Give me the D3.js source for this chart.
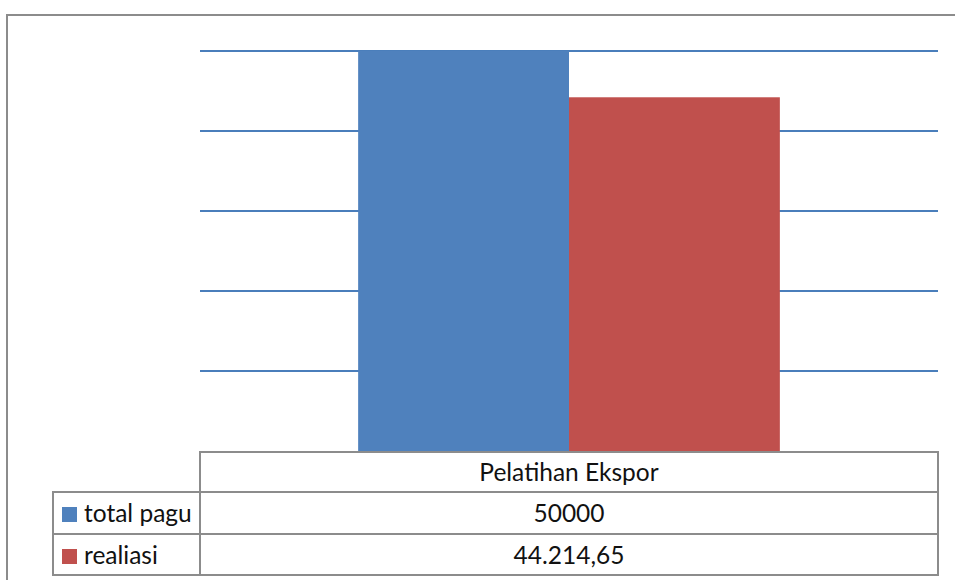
<!DOCTYPE html>
<html><head><meta charset="utf-8">
<script src="https://cdn.jsdelivr.net/npm/d3@7"></script>
<style>body{margin:0;background:#fff}svg{display:block}</style>
</head><body>
<script>
const categories = ["Pelatihan Ekspor"];
const seriesNames = ["total pagu", "realiasi"];
const seriesValues = [50000, 44214.65];
const seriesLabels = ["50000", "44.214,65"];
const seriesColors = ["#4F81BD", "#C0504D"];
const yTicks = [0, 10000, 20000, 30000, 40000, 50000];

const W = 955, H = 580;
const svg = d3.select("body").append("svg").attr("width", W).attr("height", H);
const font = "Lato, 'Open Sans', sans-serif";
const fs = 24.5;

// outer chart border
svg.append("rect").attr("x", 7).attr("y", 15).attr("width", 960).attr("height", 600)
  .attr("fill", "none").attr("stroke", "#8c8c8c").attr("stroke-width", 2);

const plot = {left: 200, right: 938, top: 51, bottom: 451};
const y = d3.scaleLinear().domain([0, 50000]).range([plot.bottom, plot.top]);
const x0 = d3.scaleBand().domain(categories).range([plot.left, plot.right]);
const x1 = d3.scaleBand().domain(seriesNames).range([0, x0.bandwidth()]).paddingOuter(0.75).paddingInner(0);

// gridlines
svg.append("g").selectAll("line").data(yTicks.filter(d => d > 0)).join("line")
  .attr("x1", plot.left).attr("x2", plot.right)
  .attr("y1", d => y(d)).attr("y2", d => y(d))
  .attr("stroke", "#4A7EBB").attr("stroke-width", 2);

// bars
const data = seriesNames.map((s, i) => ({s, v: seriesValues[i], c: seriesColors[i], cat: categories[0]}));
svg.append("g").selectAll("rect").data(data).join("rect")
  .attr("x", d => x0(d.cat) + x1(d.s))
  .attr("width", x1.bandwidth())
  .attr("y", d => y(d.v))
  .attr("height", d => y(0) - y(d.v))
  .attr("fill", d => d.c);

// data table
const tbl = svg.append("g").attr("stroke", "#8c8c8c").attr("stroke-width", 2).attr("fill", "none");
const rowY = [452, 492, 534, 575];
const legL = 53;
tbl.append("rect").attr("x", plot.left).attr("y", rowY[0]).attr("width", plot.right - plot.left).attr("height", rowY[3] - rowY[0]);
tbl.append("rect").attr("x", legL).attr("y", rowY[1]).attr("width", plot.right - legL).attr("height", rowY[3] - rowY[1]);
tbl.append("line").attr("x1", legL).attr("x2", plot.right).attr("y1", rowY[2]).attr("y2", rowY[2]);

svg.append("text").attr("x", x0(categories[0]) + x0.bandwidth() / 2).attr("y", 481)
  .attr("text-anchor", "middle")
  .attr("font-family", font).attr("font-size", fs).attr("fill", "#111").text(categories[0]);

data.forEach((d, i) => {
  const base = rowY[i + 1] + 30;
  svg.append("rect").attr("x", 62).attr("y", base - 15).attr("width", 15).attr("height", 15).attr("fill", d.c);
  svg.append("text").attr("x", 84).attr("y", base)
    .attr("font-family", font).attr("font-size", fs).attr("fill", "#111").text(d.s);
  svg.append("text").attr("x", x0(d.cat) + x0.bandwidth() / 2).attr("y", base).attr("text-anchor", "middle")
    .attr("font-family", font).attr("font-size", fs).attr("fill", "#111").text(seriesLabels[i]);
});
</script>
</body></html>
